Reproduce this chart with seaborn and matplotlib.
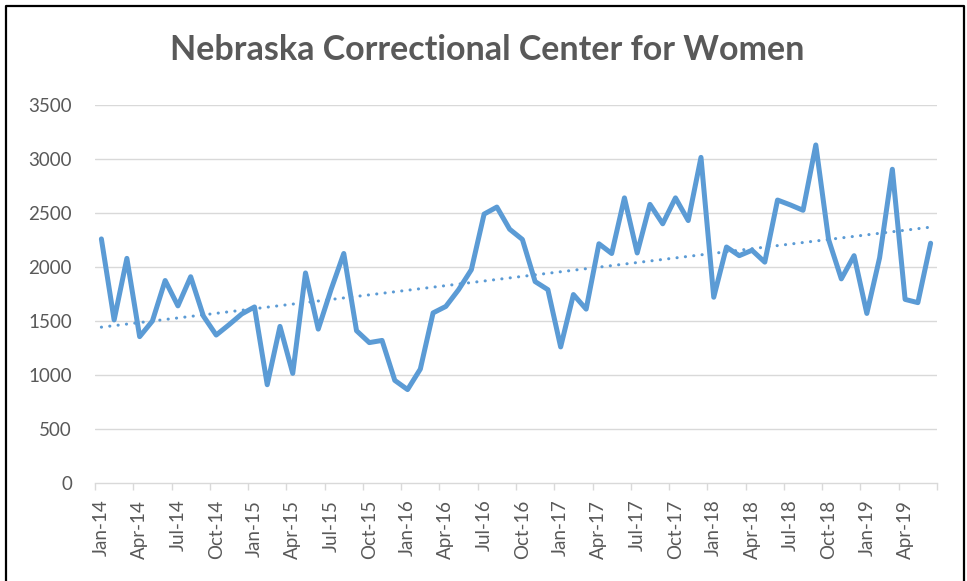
import numpy as np
import pandas as pd
import matplotlib
matplotlib.use("Agg")
import matplotlib.pyplot as plt
import seaborn as sns
from matplotlib.lines import Line2D
from matplotlib.ticker import FixedLocator, NullFormatter

# ---- data ----
months = list(pd.date_range("2014-01-01", periods=66, freq="MS").strftime("%b-%y"))
population = [2260, 1510, 2080, 1355, 1500, 1875, 1640, 1910, 1545, 1370,
              1465, 1565, 1630, 910, 1450, 1015, 1945, 1425, 1790, 2125,
              1410, 1300, 1320, 950, 865, 1055, 1575, 1635, 1790, 1975,
              2490, 2555, 2350, 2255, 1865, 1790, 1260, 1745, 1610, 2215,
              2125, 2640, 2130, 2580, 2400, 2640, 2430, 3015, 1720, 2185,
              2105, 2155, 2045, 2620, 2575, 2525, 3130, 2255, 1890, 2105,
              1570, 2085, 2905, 1700, 1670, 2220]
tick_labels = ["Jan-14", "Apr-14", "Jul-14", "Oct-14", "Jan-15", "Apr-15", "Jul-15",
               "Oct-15", "Jan-16", "Apr-16", "Jul-16", "Oct-16", "Jan-17", "Apr-17",
               "Jul-17", "Oct-17", "Jan-18", "Apr-18", "Jul-18", "Oct-18", "Jan-19",
               "Apr-19"]
y_ticks = [0, 500, 1000, 1500, 2000, 2500, 3000, 3500]
title = "Nebraska Correctional Center for Women"

df = pd.DataFrame({"idx": np.arange(len(months)), "month": months, "value": population})
coef = np.polyfit(df["idx"], df["value"], 1)
df["trend"] = np.polyval(coef, df["idx"])

sns.set_theme(style="white")
plt.rcParams["font.family"] = ["Lato", "DejaVu Sans"]

W, H = 967, 581
fig = plt.figure(figsize=(W / 100, H / 100), dpi=100)
ax = fig.add_axes([95 / W, 1 - 483 / H, (937 - 95) / W, (483 - 105) / H])

line_color = "#5B9BD5"
text_color = "#595959"
grid_color = "#D9D9D9"

for yv in y_ticks[1:]:
    ax.axhline(yv, color=grid_color, lw=1.0, zorder=0)

sns.lineplot(data=df, x="idx", y="trend", ax=ax, color=line_color, lw=2.2,
             zorder=2, legend=False)
ax.lines[-1].set_dashes((0.05, 2.7))
ax.lines[-1].set_dash_capstyle("round")
sns.lineplot(data=df, x="idx", y="value", ax=ax, color=line_color, lw=3.6,
             zorder=3, legend=False)
ax.lines[-1].set_solid_joinstyle("round")

ax.set_xlim(-0.5, len(months) - 0.5)
ax.set_ylim(0, 3500)

# y axis
ax.set_yticks(y_ticks)
ax.set_yticklabels([str(v) for v in y_ticks])
ax.tick_params(axis="y", length=0, pad=16.5, labelsize=13.5, labelcolor=text_color)

# x axis: labels at every third month, ticks at category boundaries
label_pos = list(range(0, len(months), 3))
ax.set_xticks(label_pos)
ax.set_xticklabels(tick_labels, rotation=90)
ax.tick_params(axis="x", length=0, pad=12, labelsize=13.5, labelcolor=text_color)
ax.xaxis.set_minor_locator(FixedLocator([p - 0.5 for p in range(0, len(months) + 1, 3)]))
ax.xaxis.set_minor_formatter(NullFormatter())
ax.tick_params(axis="x", which="minor", length=5, width=1, color=grid_color, bottom=True)

for s in ["top", "right", "left"]:
    ax.spines[s].set_visible(False)
ax.spines["bottom"].set_color(grid_color)
ax.spines["bottom"].set_linewidth(1.0)
ax.set_xlabel("")
ax.set_ylabel("")

fig.text(487 / W, 1 - 50 / H, title, ha="center", va="center",
         fontsize=24.5, fontweight="bold", color=text_color)

# outer frame
fx = [6 / W, 6 / W, 964 / W, 964 / W]
fy = [-0.01, 1 - 6 / H, 1 - 6 / H, -0.01]
fig.add_artist(Line2D(fx, fy, color="black", lw=1.6, transform=fig.transFigure))

fig.savefig("out.png", dpi=100, facecolor="white")
